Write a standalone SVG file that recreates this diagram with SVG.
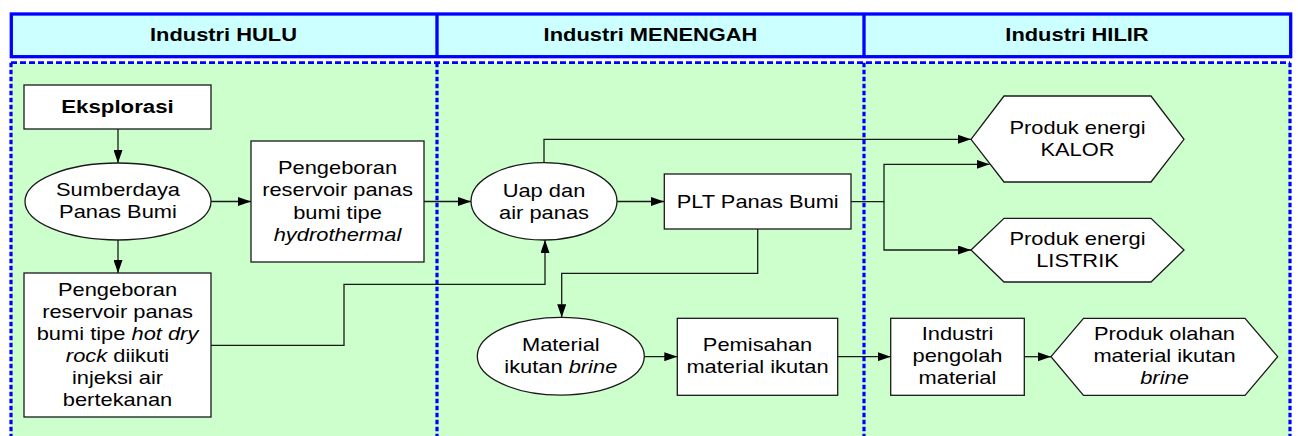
<svg xmlns="http://www.w3.org/2000/svg" width="1298" height="436" viewBox="0 0 1298 436">
<defs>
<style>
.t{font-family:"Liberation Sans",Arial,sans-serif;font-size:17.5px;fill:#000;text-anchor:middle}
.h{font-family:"Liberation Sans",Arial,sans-serif;font-size:17.5px;font-weight:bold;fill:#000;text-anchor:middle}
.b{font-weight:bold}
.i{font-style:italic}
.n{fill:#fff;stroke:#1a1a1a;stroke-width:1.3}
.c{fill:none;stroke:#1a1a1a;stroke-width:1.3;marker-end:url(#ah)}
.dh{stroke:#0000ff;stroke-width:2.7;stroke-dasharray:6 3;fill:none}
.dv{stroke:#0000ff;stroke-width:3.2;stroke-dasharray:4.5 2.5;fill:none}
</style>
<marker id="ah" markerUnits="userSpaceOnUse" markerWidth="13" markerHeight="9" refX="13" refY="4.5" orient="auto">
<path d="M0,0 L13,4.5 L0,9 z" fill="#000"/>
</marker>
</defs>
<rect width="1298" height="436" fill="#fff"/>
<g id="lanes">
<rect x="11" y="62.7" width="1279" height="380" fill="#ccffcc"/>
<line class="dh" x1="11" y1="62.7" x2="1290" y2="62.7"/>
<line class="dv" x1="11" y1="62.7" x2="11" y2="440"/>
<line class="dv" x1="437" y1="62.7" x2="437" y2="440"/>
<line class="dv" x1="864" y1="62.7" x2="864" y2="440"/>
<line class="dv" x1="1290" y1="62.7" x2="1290" y2="440"/>
<rect x="11.3" y="14" width="1279.4" height="42.7" fill="#ccffff" stroke="#0000ff" stroke-width="3.3"/>
<line x1="437" y1="14" x2="437" y2="56.7" stroke="#0000ff" stroke-width="3.3"/>
<line x1="864" y1="14" x2="864" y2="56.7" stroke="#0000ff" stroke-width="3.3"/>
<text class="h" transform="translate(223.5,40.8) scale(1.25,1)">Industri HULU</text>
<text class="h" transform="translate(650.5,40.8) scale(1.25,1)">Industri MENENGAH</text>
<text class="h" transform="translate(1077,40.8) scale(1.25,1)">Industri HILIR</text>
</g>
<g id="connectors">
<path class="c" d="M118,129 V163"/>
<path class="c" d="M118,240 V273"/>
<path class="c" d="M211,201.5 H251"/>
<path class="c" d="M211,345.3 H344 V284.3 H545 V240"/>
<path class="c" d="M424,201.5 H471"/>
<path class="c" d="M617,201.5 H664"/>
<path class="c" d="M544,162.7 V139.3 H971"/>
<path class="c" d="M851,201.7 H884 V164.3 H989.5"/>
<path class="c" d="M884,201.7 V250 H971"/>
<path class="c" d="M757.7,229 V273.3 H561.7 V317.3"/>
<path class="c" d="M644.3,356.7 H677.3"/>
<path class="c" d="M837.7,356.7 H890.7"/>
<path class="c" d="M1024.3,356.7 H1051"/>
</g>
<g id="eksplorasi">
<rect class="n" x="24" y="85" width="187" height="44"/>
<text class="t b" transform="translate(117.5,113) scale(1.27,1)">Eksplorasi</text>
</g>
<g id="sumberdaya">
<ellipse class="n" cx="118" cy="201.5" rx="93" ry="38.5"/>
<text class="t" transform="translate(118,195.9) scale(1.25,1)"><tspan x="0" y="0">Sumberdaya</tspan><tspan x="0" y="22.6">Panas Bumi</tspan></text>
</g>
<g id="hydrothermal">
<rect class="n" x="251" y="141" width="173" height="121"/>
<text class="t" transform="translate(337.5,174.2) scale(1.25,1)"><tspan x="0" y="0">Pengeboran</tspan><tspan x="0" y="22.2">reservoir panas</tspan><tspan x="0" y="44.4">bumi tipe</tspan><tspan x="0" y="66.6" class="i">hydrothermal</tspan></text>
</g>
<g id="hotdryrock">
<rect class="n" x="24" y="273" width="187" height="144"/>
<text class="t" transform="translate(117.5,296.2) scale(1.25,1)"><tspan x="0" y="0">Pengeboran</tspan><tspan x="0" y="22">reservoir panas</tspan><tspan x="0" y="44">bumi tipe <tspan class="i">hot dry</tspan></tspan><tspan x="0" y="66"><tspan class="i">rock</tspan> diikuti</tspan><tspan x="0" y="88">injeksi air</tspan><tspan x="0" y="110">bertekanan</tspan></text>
</g>
<g id="uap">
<ellipse class="n" cx="544" cy="201.3" rx="73" ry="38.7"/>
<text class="t" transform="translate(544,196.9) scale(1.25,1)"><tspan x="0" y="0">Uap dan</tspan><tspan x="0" y="22.3">air panas</tspan></text>
</g>
<g id="plt">
<rect class="n" x="664.3" y="174" width="186.7" height="55"/>
<text class="t" transform="translate(757.7,207.5) scale(1.25,1)">PLT Panas Bumi</text>
</g>
<g id="material">
<ellipse class="n" cx="560.8" cy="356.2" rx="83.5" ry="38.9"/>
<text class="t" transform="translate(560.8,350.9) scale(1.25,1)"><tspan x="0" y="0">Material</tspan><tspan x="0" y="22.6">ikutan <tspan class="i">brine</tspan></tspan></text>
</g>
<g id="pemisahan">
<rect class="n" x="677.3" y="318.3" width="160.4" height="77"/>
<text class="t" transform="translate(757.5,350.9) scale(1.25,1)"><tspan x="0" y="0">Pemisahan</tspan><tspan x="0" y="22.6">material ikutan</tspan></text>
</g>
<g id="kalor">
<polygon class="n" points="971,139.3 1004,96 1151,96 1184,139.3 1151,182 1004,182"/>
<text class="t" transform="translate(1077.5,134.2) scale(1.25,1)"><tspan x="0" y="0">Produk energi</tspan><tspan x="0" y="22">KALOR</tspan></text>
</g>
<g id="listrik">
<polygon class="n" points="971,250 1004,218.3 1151,218.3 1184,250 1151,282 1004,282"/>
<text class="t" transform="translate(1077.5,245.2) scale(1.25,1)"><tspan x="0" y="0">Produk energi</tspan><tspan x="0" y="21.7">LISTRIK</tspan></text>
</g>
<g id="pengolah">
<rect class="n" x="890.7" y="318.3" width="133.6" height="77"/>
<text class="t" transform="translate(957.5,340.2) scale(1.25,1)"><tspan x="0" y="0">Industri</tspan><tspan x="0" y="22">pengolah</tspan><tspan x="0" y="44.3">material</tspan></text>
</g>
<g id="olahan">
<polygon class="n" points="1051,356.7 1083.5,318.3 1245,318.3 1277.7,356.7 1245,395.3 1083.5,395.3"/>
<text class="t" transform="translate(1164.5,340.2) scale(1.25,1)"><tspan x="0" y="0">Produk olahan</tspan><tspan x="0" y="22">material ikutan</tspan><tspan x="0" y="44.3" class="i">brine</tspan></text>
</g>
</svg>
